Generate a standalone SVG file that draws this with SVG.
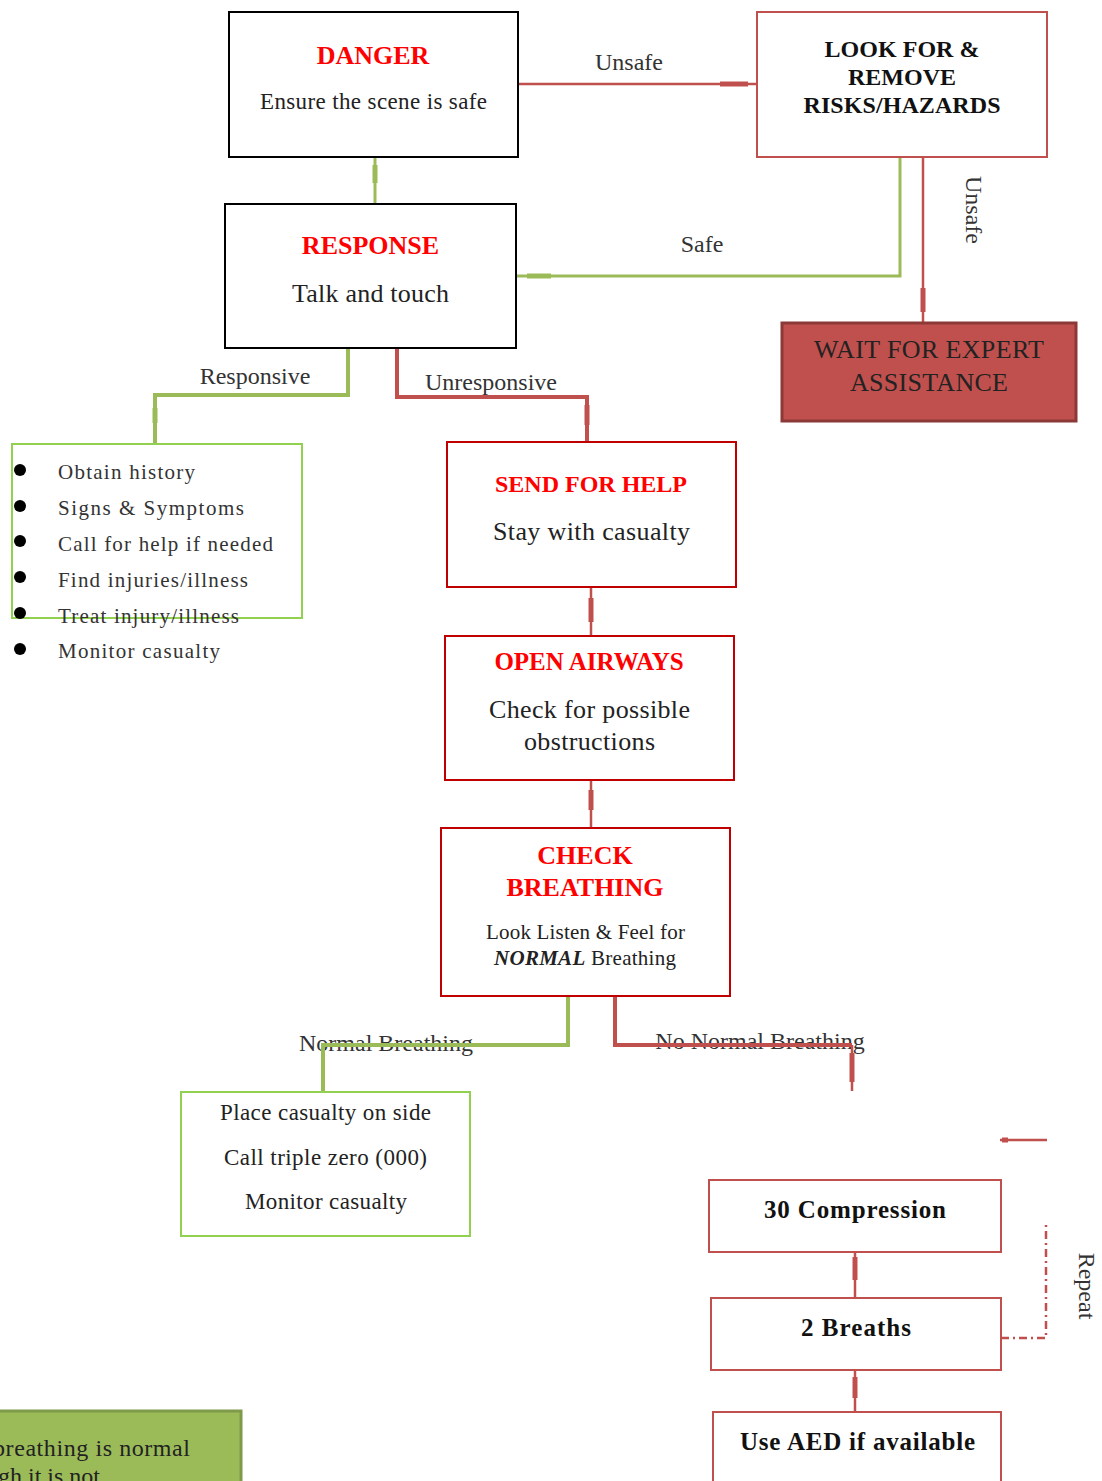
<svg xmlns="http://www.w3.org/2000/svg" width="1102" height="1481" viewBox="0 0 1102 1481">
<style>
text{font-family:"Liberation Serif","Times New Roman",serif;fill:#222}
.t{font-weight:bold;fill:#ff0000;text-anchor:middle}
.b{text-anchor:middle}
.bb{font-weight:bold;text-anchor:middle;fill:#111}
.lbl{font-size:24px;text-anchor:middle;fill:#333}
.li{font-size:21px;fill:#333}
.kbox{fill:#fff;stroke:#000;stroke-width:2}
.rbox{fill:#fff;stroke:#c00000;stroke-width:2}
.pbox{fill:#fff;stroke:#c0504d;stroke-width:2}
.gbox{fill:#fff;stroke:#92d050;stroke-width:2}
.rl{fill:none;stroke:#c0504d;stroke-width:2.5}
.rlt{fill:none;stroke:#c0504d;stroke-width:4}
.gl{fill:none;stroke:#9bbb59;stroke-width:3}
.glt{fill:none;stroke:#9bbb59;stroke-width:4}
.ar{stroke:#c0504d;stroke-width:5}
.ag{stroke:#9bbb59;stroke-width:5}
</style>

<g id="connectors">
  <line class="rl" x1="518" y1="84" x2="757" y2="84"/>
  <line class="ar" x1="720" y1="84" x2="748" y2="84"/>
  <line class="gl" x1="375" y1="157" x2="375" y2="204"/>
  <line class="ag" x1="375" y1="165" x2="375" y2="183"/>
  <polyline class="gl" points="900,157 900,276 516,276"/>
  <line class="ag" x1="527" y1="276" x2="551" y2="276"/>
  <text class="lbl" x="702" y="252">Safe</text>
  <line class="rl" x1="923" y1="157" x2="923" y2="322"/>
  <line class="ar" x1="923" y1="288" x2="923" y2="312"/>
  <text class="lbl" x="974" y="210" transform="rotate(90 974 210)" dominant-baseline="central">Unsafe</text>
  <text class="lbl" x="629" y="70">Unsafe</text>
  <polyline class="glt" points="348,348 348,395 155,395 155,443"/>
  <line class="ag" x1="155" y1="408" x2="155" y2="423"/>
  <text class="lbl" x="255" y="384">Responsive</text>
  <polyline class="rlt" points="397,348 397,397 587,397 587,442"/>
  <line class="ar" x1="587" y1="405" x2="587" y2="425"/>
  <text class="lbl" x="491" y="390">Unresponsive</text>
  <line class="rl" x1="591" y1="587" x2="591" y2="636"/>
  <line class="ar" x1="591" y1="598" x2="591" y2="622"/>
  <line class="rl" x1="591" y1="780" x2="591" y2="828"/>
  <line class="ar" x1="591" y1="790" x2="591" y2="810"/>
  <text class="lbl" x="386" y="1051">Normal Breathing</text>
  <polyline class="glt" points="568,996 568,1045 323,1045 323,1091"/>
  <text class="lbl" x="760" y="1049">No Normal Breathing</text>
  <polyline class="rlt" points="615,996 615,1045 852,1045"/>
  <line class="rl" x1="852" y1="1045" x2="852" y2="1091"/>
  <line class="ar" x1="852" y1="1053" x2="852" y2="1082"/>
  <line class="rl" x1="1000" y1="1140" x2="1047" y2="1140"/>
  <line class="ar" x1="1002" y1="1140" x2="1008" y2="1140"/>
  <line class="rl" x1="855" y1="1252" x2="855" y2="1298"/>
  <line class="ar" x1="855" y1="1257" x2="855" y2="1280"/>
  <line class="rl" x1="855" y1="1370" x2="855" y2="1412"/>
  <line class="ar" x1="855" y1="1377" x2="855" y2="1398"/>
  <polyline fill="none" stroke="#c0504d" stroke-width="2.5" stroke-dasharray="8,4,2,4" points="1001,1338 1046,1338 1046,1225"/>
  <text class="lbl" x="1087" y="1286" transform="rotate(90 1087 1286)" dominant-baseline="central">Repeat</text>
</g>

<g id="danger">
  <rect class="kbox" x="229" y="12" width="289" height="145"/>
  <text class="t" x="373" y="64" font-size="26">DANGER</text>
  <text class="b" x="373.5" y="109" font-size="23" textLength="227">Ensure the scene is safe</text>
</g>

<g id="lookfor">
  <rect class="pbox" x="757" y="12" width="290" height="145"/>
  <text class="bb" x="902" y="57" font-size="24" textLength="155">LOOK FOR &amp;</text>
  <text class="bb" x="902" y="85" font-size="24">REMOVE</text>
  <text class="bb" x="902" y="113" font-size="24" textLength="197">RISKS/HAZARDS</text>
</g>

<g id="response">
  <rect class="kbox" x="225" y="204" width="291" height="144"/>
  <text class="t" x="370.5" y="254" font-size="26">RESPONSE</text>
  <text class="b" x="370.5" y="302" font-size="26" textLength="157">Talk and touch</text>
</g>

<g id="wait">
  <rect x="782" y="323" width="294" height="98" fill="#c0504d" stroke="#8c3836" stroke-width="3"/>
  <text class="b" x="929" y="358" font-size="26" fill="#1a0a0a" textLength="230">WAIT FOR EXPERT</text>
  <text class="b" x="929" y="391" font-size="26" fill="#1a0a0a" textLength="158">ASSISTANCE</text>
</g>

<g id="responsive-list">
  <rect class="gbox" x="12" y="444" width="290" height="174"/>
  <circle cx="20" cy="470" r="6" fill="#000"/>
  <circle cx="20" cy="506" r="6" fill="#000"/>
  <circle cx="20" cy="541" r="6" fill="#000"/>
  <circle cx="20" cy="577" r="6" fill="#000"/>
  <circle cx="20" cy="613" r="6" fill="#000"/>
  <circle cx="20" cy="649" r="6" fill="#000"/>
  <text class="li" x="58" y="479" textLength="137">Obtain history</text>
  <text class="li" x="58" y="515" textLength="186">Signs &amp; Symptoms</text>
  <text class="li" x="58" y="551" textLength="215">Call for help if needed</text>
  <text class="li" x="58" y="587" textLength="190">Find injuries/illness</text>
  <text class="li" x="58" y="623" textLength="181">Treat injury/illness</text>
  <text class="li" x="58" y="658" textLength="162">Monitor casualty</text>
</g>

<g id="sendhelp">
  <rect class="rbox" x="447" y="442" width="289" height="145"/>
  <text class="t" x="591" y="492" font-size="24">SEND FOR HELP</text>
  <text class="b" x="591.5" y="540" font-size="26" textLength="197">Stay with casualty</text>
</g>

<g id="openairways">
  <rect class="rbox" x="445" y="636" width="289" height="144"/>
  <text class="t" x="589" y="670" font-size="25">OPEN AIRWAYS</text>
  <text class="b" x="589.5" y="718" font-size="26" textLength="201">Check for possible</text>
  <text class="b" x="589.5" y="750" font-size="26" textLength="131">obstructions</text>
</g>

<g id="checkbreathing">
  <rect class="rbox" x="441" y="828" width="289" height="168"/>
  <text class="t" x="585" y="864" font-size="26">CHECK</text>
  <text class="t" x="585" y="896" font-size="26">BREATHING</text>
  <text class="b" x="585.5" y="939" font-size="21" textLength="199">Look Listen &amp; Feel for</text>
  <text class="b" x="585" y="965" font-size="21" textLength="182"><tspan font-weight="bold" font-style="italic">NORMAL</tspan> Breathing</text>
</g>

<g id="recovery">
  <rect class="gbox" x="181" y="1092" width="289" height="144"/>
  <text class="b" x="325.5" y="1120" font-size="23" textLength="211">Place casualty on side</text>
  <text class="b" x="325.5" y="1165" font-size="23" textLength="203">Call triple zero (000)</text>
  <text class="b" x="326" y="1209" font-size="23" textLength="162">Monitor casualty</text>
</g>

<g id="compression">
  <rect class="pbox" x="709" y="1180" width="292" height="72"/>
  <text class="bb" x="855" y="1218" font-size="25" textLength="182">30 Compression</text>
</g>

<g id="breaths">
  <rect class="pbox" x="711" y="1298" width="290" height="72"/>
  <text class="bb" x="856" y="1336" font-size="25" textLength="110">2 Breaths</text>
</g>

<g id="aed">
  <rect class="pbox" x="713" y="1412" width="288" height="80"/>
  <text class="bb" x="857.5" y="1450" font-size="25" textLength="235">Use AED if available</text>
</g>

<g id="note">
  <rect x="-5" y="1411" width="246" height="80" fill="#9bbb59" stroke="#7f9a48" stroke-width="3"/>
  <text x="-7" y="1456" font-size="24" fill="#1a1a1a" textLength="197">breathing is normal</text>
  <text x="-2" y="1484" font-size="24" fill="#1a1a1a">gh it is not</text>
</g>
</svg>
